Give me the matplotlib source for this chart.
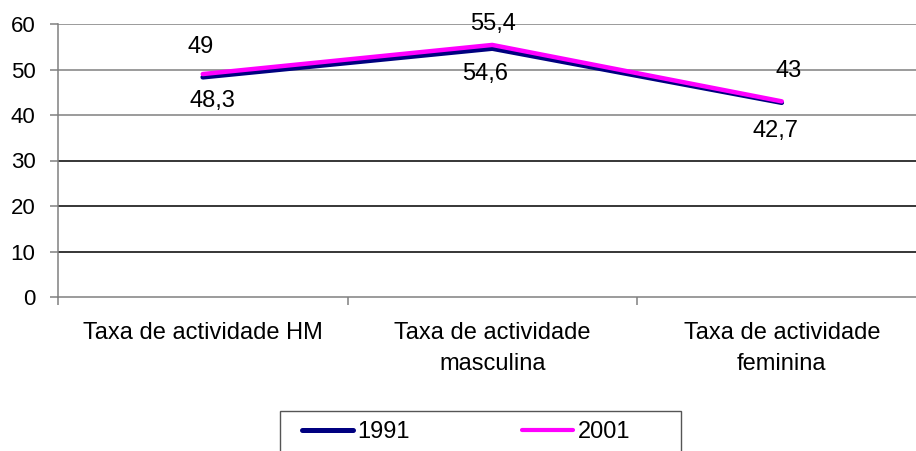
import matplotlib
matplotlib.use("Agg")
import matplotlib.pyplot as plt
from matplotlib.lines import Line2D
from matplotlib.patches import Rectangle

plt.rcParams['font.family'] = ['Liberation Sans', 'DejaVu Sans']

categories = ["Taxa de actividade HM", "Taxa de actividade\nmasculina", "Taxa de actividade\nfeminina"]
series_names = ["1991", "2001"]
values_1991 = [48.3, 54.6, 42.7]
values_2001 = [49, 55.4, 43]
labels_1991 = ["48,3", "54,6", "42,7"]
labels_2001 = ["49", "55,4", "43"]
yticks = [0, 10, 20, 30, 40, 50, 60]

W, H = 916, 451
fig = plt.figure(figsize=(W / 100, H / 100), dpi=100)
left, right, top, bottom = 58, 926.5, 24, 297
ax = fig.add_axes([left / W, 1 - bottom / H, (right - left) / W, (bottom - top) / H])

x = [0.5, 1.5, 2.5]
ax.set_xlim(0, 3)
ax.set_ylim(0, 60)

for yv in yticks[1:]:
    col = '#808080' if yv >= 40 else 'black'
    ax.axhline(yv, color=col, lw=1.1, zorder=1)

c91 = '#000080'
c01 = '#ff00ff'
ax.plot(x, values_1991, color=c91, lw=3.4, solid_capstyle='round', zorder=3)
ax.plot(x, values_2001, color=c01, lw=3.2, solid_capstyle='round', zorder=4)

off_91 = [(7.2, -16.8), (-5, -18.3), (-4.3, -20.4)]
off_01 = [(-1.4, 19.8), (0.7, 15.1), (5, 22.2)]
for i in range(3):
    ax.annotate(labels_1991[i], (x[i], values_1991[i]), xytext=off_91[i], textcoords='offset points',
                ha='center', va='center', fontsize=17)
    ax.annotate(labels_2001[i], (x[i], values_2001[i]), xytext=off_01[i], textcoords='offset points',
                ha='center', va='center', fontsize=17)

for s in ['top', 'right']:
    ax.spines[s].set_visible(False)
ax.spines['left'].set_color('#808080')
ax.spines['bottom'].set_color('#808080')
ax.spines['left'].set_linewidth(1.1)
ax.spines['bottom'].set_linewidth(1.1)

ax.set_yticks(yticks)
ax.set_yticklabels([str(v) for v in yticks], fontsize=16)
ax.tick_params(axis='y', length=5.8, color='#808080', width=1.1, pad=10.5)
ax.set_xticks([0, 1, 2, 3])
ax.set_xticklabels([])
ax.tick_params(axis='x', length=5.8, color='#808080', width=1.1)
for i, c in enumerate(categories):
    ax.annotate(c, (x[i], 0), xytext=(0, -18), textcoords='offset points',
                ha='center', va='top', fontsize=17, linespacing=1.5)

handles = [Line2D([], [], color=c91, lw=3.6, solid_capstyle='round'),
           Line2D([], [], color=c01, lw=3.0, solid_capstyle='round')]
leg = fig.legend(handles, series_names, loc='center left',
                 bbox_to_anchor=(302 / W, 1 - 432 / H),
                 ncol=2, fontsize=17, frameon=False, handlelength=2.15,
                 handletextpad=0.2, borderpad=0, columnspacing=4.75, borderaxespad=0)
fig.patches.append(Rectangle((280 / W, 1 - 470 / H), 401 / W, 59 / H, transform=fig.transFigure,
                             fill=False, edgecolor='#555555', lw=1.0))

fig.savefig("out.png", dpi=100)
